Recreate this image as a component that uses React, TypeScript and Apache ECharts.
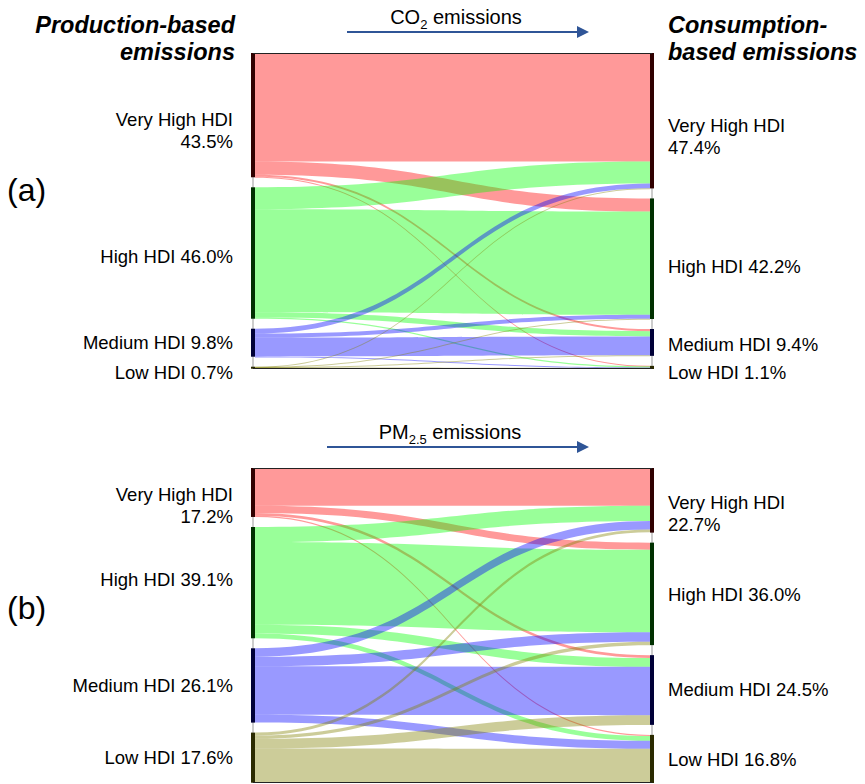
import React, { useEffect, useRef } from "react";
import * as echarts from "echarts";

// ---------------- data ----------------
const groups = ["Very High HDI", "High HDI", "Medium HDI", "Low HDI"];

// (a) CO2 emissions, shares in %
const co2Production = [43.5, 46.0, 9.8, 0.7];
const co2Consumption = [47.4, 42.2, 9.4, 1.1];
// flows[source production group][target consumption group]
const co2Flows = [
  [38.0, 4.6, 0.75, 0.15],
  [7.65, 36.1, 1.85, 0.4],
  [1.7, 1.4, 6.6, 0.1],
  [0.05, 0.1, 0.1, 0.45],
];

// (b) PM2.5 emissions, shares in %
const pmProduction = [17.2, 39.1, 26.1, 17.6];
const pmConsumption = [22.7, 36.0, 24.5, 16.8];
const pmFlows = [
  [13.3, 2.5, 1.0, 0.4],
  [5.3, 29.0, 3.1, 1.7],
  [3.0, 3.3, 17.0, 2.8],
  [1.0, 1.2, 3.4, 12.0],
];

// ---------------- styles ----------------
const FONT = "'Liberation Sans', Arial, Helvetica, sans-serif";
const linkColors = ["rgb(255,0,0)", "rgb(0,255,0)", "rgb(0,0,255)", "rgb(128,128,0)"];
const nodeColors = ["#300000", "#003000", "#000038", "#2a2a00"];
const ARROW = "#2f5597";

const co2LeftOffsets = [15, 3, 0, 5];
const co2RightOffsets = [16, 8, 2, 5];
const pmLeftOffsets = [13, -3, 0, 0];
const pmRightOffsets = [13, 1, -1, 1];

const SANKEY_LEFT = 251;
const SANKEY_WIDTH = 403;
const NODE_W = 4;
const PANEL_A = { top: 53, height: 316 };
const PANEL_B = { top: 468, height: 315 };

function labelText(i: number, v: number) {
  return i === 0 ? `${groups[i]}\n${v.toFixed(1)}%` : `${groups[i]} ${v.toFixed(1)}%`;
}

function buildSeries(
  prod: number[],
  cons: number[],
  flows: number[][],
  panel: { top: number; height: number },
  leftOff: number[],
  rightOff: number[]
) {
  const nodes: any[] = [];
  groups.forEach((_, i) => {
    nodes.push({
      name: `P${i}`,
      value: prod[i],
      depth: 0,
      itemStyle: { color: nodeColors[i], borderWidth: 0 },
      label: {
        position: "left",
        distance: 18,
        align: "right",
        offset: [0, leftOff[i]],
        formatter: labelText(i, prod[i]),
      },
    });
  });
  groups.forEach((_, i) => {
    nodes.push({
      name: `C${i}`,
      value: cons[i],
      depth: 1,
      itemStyle: { color: nodeColors[i], borderWidth: 0 },
      label: {
        position: "right",
        distance: 14,
        align: "left",
        offset: [0, rightOff[i]],
        formatter: labelText(i, cons[i]),
      },
    });
  });
  const links: any[] = [];
  flows.forEach((row, s) =>
    row.forEach((v, t) => {
      links.push({
        source: `P${s}`,
        target: `C${t}`,
        value: v,
        lineStyle: { color: linkColors[s], opacity: 0.4, curveness: 0.5 },
      });
    })
  );
  return {
    type: "sankey",
    left: SANKEY_LEFT,
    top: panel.top,
    width: SANKEY_WIDTH,
    height: panel.height,
    nodeWidth: NODE_W,
    nodeGap: 10,
    layoutIterations: 0,
    draggable: false,
    silent: true,
    emphasis: { disabled: true },
    label: {
      show: true,
      color: "#000",
      fontSize: 18.5,
      lineHeight: 22,
      fontFamily: FONT,
    },
    data: nodes,
    links,
  };
}

function frame(panel: { top: number; height: number }) {
  const x1 = SANKEY_LEFT + 2;
  const x2 = SANKEY_LEFT + SANKEY_WIDTH - 2;
  const y1 = panel.top;
  const y2 = panel.top + panel.height;
  return [
    { type: "line", shape: { x1: x1, y1, x2: x1, y2 }, style: { stroke: "#999", lineWidth: 1 }, z: 1 },
    { type: "line", shape: { x1: x2, y1, x2: x2, y2 }, style: { stroke: "#999", lineWidth: 1 }, z: 1 },
    { type: "line", shape: { x1, y1: y1 + 0.5, x2, y2: y1 + 0.5 }, style: { stroke: "#222", lineWidth: 1 }, z: 100 },
    { type: "line", shape: { x1, y1: y2 - 0.5, x2, y2: y2 - 0.5 }, style: { stroke: "#222", lineWidth: 1 }, z: 100 },
  ];
}

function arrow(xStart: number, xEnd: number, y: number, text: string, textX: number, textY: number) {
  return [
    { type: "line", shape: { x1: xStart, y1: y, x2: xEnd - 10, y2: y }, style: { stroke: ARROW, lineWidth: 2 } },
    {
      type: "polygon",
      shape: { points: [[xEnd - 12, y - 6], [xEnd, y], [xEnd - 12, y + 6]] },
      style: { fill: ARROW },
    },
    {
      type: "text",
      x: textX,
      y: textY,
      style: {
        text,
        align: "center",
        verticalAlign: "middle",
        fill: "#000",
        fontFamily: FONT,
        rich: {
          n: { fontSize: 20, fontFamily: FONT, fill: "#000", lineHeight: 28, verticalAlign: "middle" },
          s: { fontSize: 13, fontFamily: FONT, fill: "#000", lineHeight: 28, verticalAlign: "bottom" },
        },
      },
    },
  ];
}

export default function App() {
  const ref = useRef<HTMLDivElement>(null);
  useEffect(() => {
    if (!ref.current) return;
    const chart = echarts.init(ref.current, undefined, { renderer: "svg" });
    const titleStyle = {
      fontFamily: FONT,
      fontSize: 23.5,
      fontWeight: "bold",
      fontStyle: "italic",
      lineHeight: 27,
      fill: "#000",
      verticalAlign: "top",
    };
    chart.setOption({
      animation: false,
      backgroundColor: "#fff",
      series: [
        buildSeries(co2Production, co2Consumption, co2Flows, PANEL_A, co2LeftOffsets, co2RightOffsets),
        buildSeries(pmProduction, pmConsumption, pmFlows, PANEL_B, pmLeftOffsets, pmRightOffsets),
      ],
      graphic: [
        { type: "text", x: 235, y: 11, style: { ...titleStyle, text: "Production-based\nemissions", align: "right" } },
        { type: "text", x: 668, y: 11, style: { ...titleStyle, text: "Consumption-\nbased emissions", align: "left" } },
        { type: "text", x: 7, y: 190, style: { text: "(a)", fontFamily: FONT, fontSize: 32, fill: "#000", verticalAlign: "middle" } },
        { type: "text", x: 7, y: 608, style: { text: "(b)", fontFamily: FONT, fontSize: 32, fill: "#000", verticalAlign: "middle" } },
        ...arrow(347, 589, 32, "{n|CO}{s|2}{n| emissions}", 456, 17),
        ...arrow(327, 589, 447, "{n|PM}{s|2.5}{n| emissions}", 450, 432),
        ...frame(PANEL_A),
        ...frame(PANEL_B),
      ],
    });
    return () => chart.dispose();
  }, []);
  return (
    <div
      ref={ref}
      style={{ position: "fixed", left: 0, top: 0, width: 865, height: 784, background: "#fff" }}
    />
  );
}
